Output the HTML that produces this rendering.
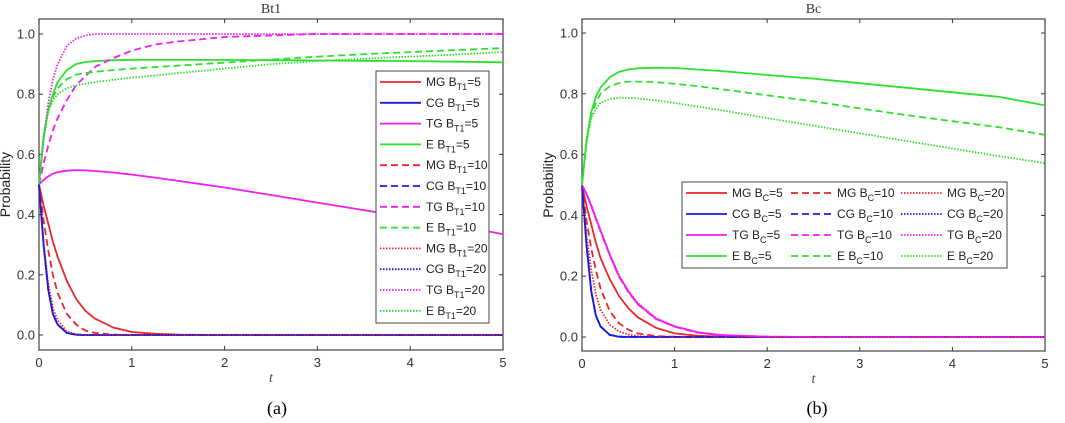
<!DOCTYPE html>
<html><head><meta charset="utf-8">
<style>
body{margin:0;background:#fff;}
svg{display:block;font-family:"Liberation Sans",sans-serif;}
</style></head>
<body>
<svg id="chart" width="1065" height="423" viewBox="0 0 1065 423"></svg>
<script>
const tVals=[0,0.05,0.1,0.15,0.2,0.3,0.4,0.5,0.6,0.8,1,1.25,1.5,2,2.5,3,3.5,4,4.5,5];
const xTicks=[0,1,2,3,4,5];
const yTicks=[0,0.2,0.4,0.6,0.8,1.0];
const yTickLabels=["0.0","0.2","0.4","0.6","0.8","1.0"];
// Panel a (B_T1)
const aMG5=[0.5,0.43,0.37,0.31,0.26,0.18,0.12,0.08,0.055,0.025,0.01,0.004,0.001,0,0,0,0,0,0,0];
const aMG10=[0.5,0.38,0.28,0.2,0.14,0.07,0.035,0.015,0.007,0.001,0,0,0,0,0,0,0,0,0,0];
const aMG20=[0.5,0.3,0.17,0.09,0.05,0.012,0.003,0,0,0,0,0,0,0,0,0,0,0,0,0];
const aCG=[0.5,0.3,0.15,0.07,0.035,0.007,0.001,0,0,0,0,0,0,0,0,0,0,0,0,0];
const aTG5=[0.5,0.515,0.527,0.536,0.541,0.546,0.548,0.547,0.545,0.54,0.533,0.523,0.512,0.49,0.465,0.44,0.415,0.39,0.365,0.335];
const aTG10=[0.5,0.57,0.63,0.68,0.72,0.78,0.83,0.86,0.89,0.92,0.945,0.965,0.975,0.99,0.995,1,1,1,1,1];
const aTG20=[0.5,0.65,0.77,0.85,0.9,0.96,0.985,0.995,1,1,1,1,1,1,1,1,1,1,1,1];
const aE5=[0.5,0.66,0.75,0.8,0.84,0.88,0.9,0.907,0.91,0.913,0.914,0.914,0.914,0.914,0.913,0.912,0.911,0.91,0.908,0.906];
const aE10=[0.5,0.66,0.75,0.79,0.82,0.85,0.865,0.87,0.874,0.88,0.885,0.89,0.895,0.905,0.915,0.925,0.933,0.94,0.947,0.953];
const aE20=[0.5,0.65,0.74,0.78,0.8,0.82,0.83,0.835,0.84,0.848,0.855,0.862,0.87,0.885,0.9,0.91,0.918,0.925,0.932,0.94];
// Panel b (B_C)
const bMG5=[0.5,0.43,0.37,0.31,0.26,0.19,0.135,0.095,0.065,0.03,0.012,0.004,0.001,0,0,0,0,0,0,0];
const bMG10=[0.5,0.38,0.29,0.22,0.16,0.085,0.045,0.024,0.012,0.003,0.001,0,0,0,0,0,0,0,0,0];
const bMG20=[0.5,0.33,0.22,0.14,0.09,0.04,0.018,0.008,0.003,0,0,0,0,0,0,0,0,0,0,0];
const bCG=[0.5,0.3,0.15,0.07,0.035,0.007,0.001,0,0,0,0,0,0,0,0,0,0,0,0,0];
const bTG5=[0.5,0.47,0.43,0.39,0.35,0.27,0.2,0.15,0.11,0.06,0.035,0.015,0.006,0.001,0,0,0,0,0,0];
const bTG10=[0.5,0.47,0.432,0.388,0.348,0.268,0.198,0.148,0.108,0.059,0.034,0.014,0.006,0.001,0,0,0,0,0,0];
const bTG20=[0.5,0.47,0.435,0.392,0.352,0.272,0.203,0.152,0.112,0.062,0.036,0.016,0.007,0.001,0,0,0,0,0,0];
const bE5=[0.5,0.65,0.74,0.79,0.82,0.855,0.872,0.88,0.884,0.886,0.885,0.88,0.875,0.862,0.85,0.835,0.82,0.805,0.79,0.762];
const bE10=[0.5,0.65,0.73,0.77,0.8,0.825,0.835,0.84,0.84,0.838,0.833,0.825,0.815,0.795,0.775,0.752,0.73,0.71,0.69,0.665];
const bE20=[0.5,0.64,0.72,0.75,0.77,0.783,0.787,0.787,0.785,0.778,0.77,0.758,0.746,0.72,0.695,0.67,0.645,0.62,0.595,0.572];

const NS="http://www.w3.org/2000/svg";
const svg=document.getElementById('chart');
const RED="#e8262b",BLUE="#1a1ae0",MAG="#f01ef0",GRN="#2ee02e";
const DASH={s:null,d:"7,4",o:"1.5,1.5"};
function mk(tag,attrs,parent){const e=document.createElementNS(NS,tag);for(const k in attrs)e.setAttribute(k,attrs[k]);(parent||svg).appendChild(e);return e;}

function panel(p){
  const g=mk('g',{});
  
  
  const X=v=>p.x0+(p.x1-p.x0)*v/5;
  const Y=v=>p.y0-(p.y0-p.y1)*v;
  mk('rect',{x:p.x0,y:p.top,width:p.x1-p.x0,height:p.bot-p.top,fill:'#fff',stroke:'#444','stroke-width':1.2},g);
  xTicks.forEach(v=>{
    const x=X(v);
    mk('line',{x1:x,x2:x,y1:p.bot,y2:p.bot-4,stroke:'#333'},g);
    mk('line',{x1:x,x2:x,y1:p.top,y2:p.top+4,stroke:'#333'},g);
    const t=mk('text',{x:x,y:p.bot+17,'text-anchor':'middle','font-size':13,fill:'#333'},g);
    t.textContent=v;
    
    
  });
  yTicks.forEach((v,i)=>{
    const y=Y(v);
    mk('line',{x1:p.x0,x2:p.x0+4,y1:y,y2:y,stroke:'#333'},g);
    mk('line',{x1:p.x1,x2:p.x1-4,y1:y,y2:y,stroke:'#333'},g);
    const t=mk('text',{x:p.x0-4,y:y+4.5,'text-anchor':'end','font-size':13,fill:'#333'},g);
    t.textContent=yTickLabels[i];
    
    
  });
  const xt=mk('text',{x:(p.x0+p.x1)/2,y:p.bot+32,'text-anchor':'middle','font-size':14,'font-style':'italic','font-family':'Liberation Serif',fill:'#444'},g);
  xt.textContent='t';
  
  
  const yt=mk('text',{x:0,y:0,transform:`translate(${p.x0-29},${(p.top+p.bot)/2}) rotate(-90)`,'text-anchor':'middle','font-size':14,fill:'#222'},g);
  yt.textContent='Probability';
  
  
  const ti=mk('text',{x:(p.x0+p.x1)/2,y:13,'text-anchor':'middle','font-size':14,'font-family':'Liberation Serif',fill:'#333'},g);
  ti.textContent=p.title;
  
  
  const cap=mk('text',{x:p.capX,y:414,'text-anchor':'middle','font-size':18,'font-family':'Liberation Serif',fill:'#000'},g);
  cap.textContent=p.caption;
  
  
  p.series.forEach(s=>{
    const d=tVals.map((t,i)=>(i?'L':'M')+X(t).toFixed(1)+','+Y(s.v[i]).toFixed(1)).join(' ');
    const a={d:d,fill:'none',stroke:s.c,'stroke-width':1.8,'stroke-linejoin':'round'};
    if(DASH[s.st])a['stroke-dasharray']=DASH[s.st];
    const path=mk('path',a,g);
    
    
  });
  const L=p.legend;
  const lg=mk('g',{},g);
  
  
  mk('rect',{x:L.x,y:L.y,width:L.w,height:L.h,fill:'#fff',stroke:'#444','stroke-width':1},lg);
  p.series.forEach((s,i)=>{
    const [lx,ly]=L.pos(i);
    const a={x1:lx,x2:lx+41,y1:ly,y2:ly,stroke:s.c,'stroke-width':1.8};
    if(DASH[s.st])a['stroke-dasharray']=DASH[s.st];
    mk('line',a,lg);
    const t=mk('text',{x:lx+46,y:ly+4,'font-size':12,fill:'#222'},lg);
    t.innerHTML=s.lab+' B<tspan dy="4" font-size="9">'+p.sub+'</tspan><tspan dy="-4">='+s.n+'</tspan>';
    
    
  });
}
function ser(mg,cg,tg,e,st,n){return [{v:mg,c:RED,st,lab:'MG',n},{v:cg,c:BLUE,st,lab:'CG',n},{v:tg,c:MAG,st,lab:'TG',n},{v:e,c:GRN,st,lab:'E',n}];}
const aSeries=[...ser(aMG5,aCG,aTG5,aE5,'s',5),...ser(aMG10,aCG,aTG10,aE10,'d',10),...ser(aMG20,aCG,aTG20,aE20,'o',20)];
const bSeries=[...ser(bMG5,bCG,bTG5,bE5,'s',5),...ser(bMG10,bCG,bTG10,bE10,'d',10),...ser(bMG20,bCG,bTG20,bE20,'o',20)];
panel({name:'panel-a',x0:39,x1:503,top:19,bot:350,y0:335,y1:34,title:'Bt1',caption:'(a)',capX:277,sub:'T1',series:aSeries,
  legend:{x:376,y:71,w:113,h:252,pos:i=>[380,82+i*20.8]}});
panel({name:'panel-b',x0:582,x1:1045,top:19,bot:351,y0:337,y1:33,title:'Bc',caption:'(b)',capX:817,sub:'C',series:bSeries,
  legend:{x:682,y:182,w:325,h:86,pos:i=>[[686,791,901][Math.floor(i/4)],193+(i%4)*21]}});
</script>
</body></html>
